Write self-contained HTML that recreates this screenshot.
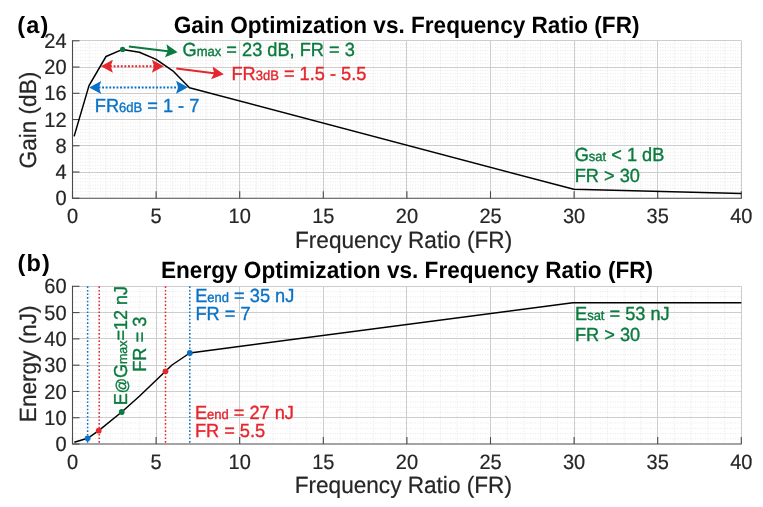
<!DOCTYPE html>
<html><head><meta charset="utf-8"><style>
html,body{margin:0;padding:0;background:#fff;}
svg{display:block;will-change:transform;}
text{font-family:'Liberation Sans', sans-serif;text-rendering:geometricPrecision;}
.mn{stroke:#dcdcdc;stroke-width:0.8;stroke-dasharray:0.8 1.7;fill:none;}
.mj{stroke:#cdcdcd;stroke-width:1;fill:none;}
.ax{stroke:#4a4a4a;stroke-width:1.1;fill:none;}
.tk{font-size:20px;fill:#262626;stroke:#262626;stroke-width:0.2px;}
.lb{font-size:22.6px;fill:#262626;stroke:#262626;stroke-width:0.2px;}
.tt{font-size:22.6px;font-weight:bold;fill:#000;}
.pl{font-size:23.5px;font-weight:bold;fill:#000;letter-spacing:1.2px;}
.an{font-size:18.2px;stroke-width:0.35px;}
.at{font-size:15px;}
.sb{font-size:13px;}
.cv{stroke:#000;stroke-width:1.5;fill:none;stroke-linejoin:round;}
.vd{stroke-width:1.5;stroke-dasharray:1.6 2.0;fill:none;}
.da{stroke-width:2;stroke-dasharray:1.9 1.7;fill:none;}
.ar{stroke-width:2;fill:none;}
</style></head><body>
<svg width="763" height="507" viewBox="0 0 763 507">
<rect width="763" height="507" fill="#fff"/>
<line x1="89.22" y1="40.80" x2="89.22" y2="198.25" class="mn"/>
<line x1="105.94" y1="40.80" x2="105.94" y2="198.25" class="mn"/>
<line x1="122.66" y1="40.80" x2="122.66" y2="198.25" class="mn"/>
<line x1="139.38" y1="40.80" x2="139.38" y2="198.25" class="mn"/>
<line x1="172.82" y1="40.80" x2="172.82" y2="198.25" class="mn"/>
<line x1="189.54" y1="40.80" x2="189.54" y2="198.25" class="mn"/>
<line x1="206.26" y1="40.80" x2="206.26" y2="198.25" class="mn"/>
<line x1="222.98" y1="40.80" x2="222.98" y2="198.25" class="mn"/>
<line x1="256.42" y1="40.80" x2="256.42" y2="198.25" class="mn"/>
<line x1="273.14" y1="40.80" x2="273.14" y2="198.25" class="mn"/>
<line x1="289.86" y1="40.80" x2="289.86" y2="198.25" class="mn"/>
<line x1="306.58" y1="40.80" x2="306.58" y2="198.25" class="mn"/>
<line x1="340.02" y1="40.80" x2="340.02" y2="198.25" class="mn"/>
<line x1="356.74" y1="40.80" x2="356.74" y2="198.25" class="mn"/>
<line x1="373.46" y1="40.80" x2="373.46" y2="198.25" class="mn"/>
<line x1="390.18" y1="40.80" x2="390.18" y2="198.25" class="mn"/>
<line x1="423.62" y1="40.80" x2="423.62" y2="198.25" class="mn"/>
<line x1="440.34" y1="40.80" x2="440.34" y2="198.25" class="mn"/>
<line x1="457.06" y1="40.80" x2="457.06" y2="198.25" class="mn"/>
<line x1="473.78" y1="40.80" x2="473.78" y2="198.25" class="mn"/>
<line x1="507.22" y1="40.80" x2="507.22" y2="198.25" class="mn"/>
<line x1="523.94" y1="40.80" x2="523.94" y2="198.25" class="mn"/>
<line x1="540.66" y1="40.80" x2="540.66" y2="198.25" class="mn"/>
<line x1="557.38" y1="40.80" x2="557.38" y2="198.25" class="mn"/>
<line x1="590.82" y1="40.80" x2="590.82" y2="198.25" class="mn"/>
<line x1="607.54" y1="40.80" x2="607.54" y2="198.25" class="mn"/>
<line x1="624.26" y1="40.80" x2="624.26" y2="198.25" class="mn"/>
<line x1="640.98" y1="40.80" x2="640.98" y2="198.25" class="mn"/>
<line x1="674.42" y1="40.80" x2="674.42" y2="198.25" class="mn"/>
<line x1="691.14" y1="40.80" x2="691.14" y2="198.25" class="mn"/>
<line x1="707.86" y1="40.80" x2="707.86" y2="198.25" class="mn"/>
<line x1="724.58" y1="40.80" x2="724.58" y2="198.25" class="mn"/>
<line x1="72.50" y1="194.97" x2="741.30" y2="194.97" class="mn"/>
<line x1="72.50" y1="191.69" x2="741.30" y2="191.69" class="mn"/>
<line x1="72.50" y1="188.41" x2="741.30" y2="188.41" class="mn"/>
<line x1="72.50" y1="185.13" x2="741.30" y2="185.13" class="mn"/>
<line x1="72.50" y1="181.85" x2="741.30" y2="181.85" class="mn"/>
<line x1="72.50" y1="178.57" x2="741.30" y2="178.57" class="mn"/>
<line x1="72.50" y1="175.29" x2="741.30" y2="175.29" class="mn"/>
<line x1="72.50" y1="168.73" x2="741.30" y2="168.73" class="mn"/>
<line x1="72.50" y1="165.45" x2="741.30" y2="165.45" class="mn"/>
<line x1="72.50" y1="162.17" x2="741.30" y2="162.17" class="mn"/>
<line x1="72.50" y1="158.89" x2="741.30" y2="158.89" class="mn"/>
<line x1="72.50" y1="155.61" x2="741.30" y2="155.61" class="mn"/>
<line x1="72.50" y1="152.33" x2="741.30" y2="152.33" class="mn"/>
<line x1="72.50" y1="149.05" x2="741.30" y2="149.05" class="mn"/>
<line x1="72.50" y1="142.49" x2="741.30" y2="142.49" class="mn"/>
<line x1="72.50" y1="139.21" x2="741.30" y2="139.21" class="mn"/>
<line x1="72.50" y1="135.93" x2="741.30" y2="135.93" class="mn"/>
<line x1="72.50" y1="132.65" x2="741.30" y2="132.65" class="mn"/>
<line x1="72.50" y1="129.37" x2="741.30" y2="129.37" class="mn"/>
<line x1="72.50" y1="126.09" x2="741.30" y2="126.09" class="mn"/>
<line x1="72.50" y1="122.81" x2="741.30" y2="122.81" class="mn"/>
<line x1="72.50" y1="116.24" x2="741.30" y2="116.24" class="mn"/>
<line x1="72.50" y1="112.96" x2="741.30" y2="112.96" class="mn"/>
<line x1="72.50" y1="109.68" x2="741.30" y2="109.68" class="mn"/>
<line x1="72.50" y1="106.40" x2="741.30" y2="106.40" class="mn"/>
<line x1="72.50" y1="103.12" x2="741.30" y2="103.12" class="mn"/>
<line x1="72.50" y1="99.84" x2="741.30" y2="99.84" class="mn"/>
<line x1="72.50" y1="96.56" x2="741.30" y2="96.56" class="mn"/>
<line x1="72.50" y1="90.00" x2="741.30" y2="90.00" class="mn"/>
<line x1="72.50" y1="86.72" x2="741.30" y2="86.72" class="mn"/>
<line x1="72.50" y1="83.44" x2="741.30" y2="83.44" class="mn"/>
<line x1="72.50" y1="80.16" x2="741.30" y2="80.16" class="mn"/>
<line x1="72.50" y1="76.88" x2="741.30" y2="76.88" class="mn"/>
<line x1="72.50" y1="73.60" x2="741.30" y2="73.60" class="mn"/>
<line x1="72.50" y1="70.32" x2="741.30" y2="70.32" class="mn"/>
<line x1="72.50" y1="63.76" x2="741.30" y2="63.76" class="mn"/>
<line x1="72.50" y1="60.48" x2="741.30" y2="60.48" class="mn"/>
<line x1="72.50" y1="57.20" x2="741.30" y2="57.20" class="mn"/>
<line x1="72.50" y1="53.92" x2="741.30" y2="53.92" class="mn"/>
<line x1="72.50" y1="50.64" x2="741.30" y2="50.64" class="mn"/>
<line x1="72.50" y1="47.36" x2="741.30" y2="47.36" class="mn"/>
<line x1="72.50" y1="44.08" x2="741.30" y2="44.08" class="mn"/>
<line x1="156.50" y1="40.80" x2="156.50" y2="198.25" class="mj"/>
<line x1="239.50" y1="40.80" x2="239.50" y2="198.25" class="mj"/>
<line x1="323.50" y1="40.80" x2="323.50" y2="198.25" class="mj"/>
<line x1="406.50" y1="40.80" x2="406.50" y2="198.25" class="mj"/>
<line x1="490.50" y1="40.80" x2="490.50" y2="198.25" class="mj"/>
<line x1="574.50" y1="40.80" x2="574.50" y2="198.25" class="mj"/>
<line x1="657.50" y1="40.80" x2="657.50" y2="198.25" class="mj"/>
<line x1="741.50" y1="40.80" x2="741.50" y2="198.25" class="mj"/>
<line x1="72.50" y1="172.50" x2="741.30" y2="172.50" class="mj"/>
<line x1="72.50" y1="145.50" x2="741.30" y2="145.50" class="mj"/>
<line x1="72.50" y1="119.50" x2="741.30" y2="119.50" class="mj"/>
<line x1="72.50" y1="93.50" x2="741.30" y2="93.50" class="mj"/>
<line x1="72.50" y1="67.50" x2="741.30" y2="67.50" class="mj"/>
<line x1="72.50" y1="40.50" x2="741.30" y2="40.50" class="mj"/>
<line x1="89.22" y1="286.30" x2="89.22" y2="444.05" class="mn"/>
<line x1="105.94" y1="286.30" x2="105.94" y2="444.05" class="mn"/>
<line x1="122.66" y1="286.30" x2="122.66" y2="444.05" class="mn"/>
<line x1="139.38" y1="286.30" x2="139.38" y2="444.05" class="mn"/>
<line x1="172.82" y1="286.30" x2="172.82" y2="444.05" class="mn"/>
<line x1="189.54" y1="286.30" x2="189.54" y2="444.05" class="mn"/>
<line x1="206.26" y1="286.30" x2="206.26" y2="444.05" class="mn"/>
<line x1="222.98" y1="286.30" x2="222.98" y2="444.05" class="mn"/>
<line x1="256.42" y1="286.30" x2="256.42" y2="444.05" class="mn"/>
<line x1="273.14" y1="286.30" x2="273.14" y2="444.05" class="mn"/>
<line x1="289.86" y1="286.30" x2="289.86" y2="444.05" class="mn"/>
<line x1="306.58" y1="286.30" x2="306.58" y2="444.05" class="mn"/>
<line x1="340.02" y1="286.30" x2="340.02" y2="444.05" class="mn"/>
<line x1="356.74" y1="286.30" x2="356.74" y2="444.05" class="mn"/>
<line x1="373.46" y1="286.30" x2="373.46" y2="444.05" class="mn"/>
<line x1="390.18" y1="286.30" x2="390.18" y2="444.05" class="mn"/>
<line x1="423.62" y1="286.30" x2="423.62" y2="444.05" class="mn"/>
<line x1="440.34" y1="286.30" x2="440.34" y2="444.05" class="mn"/>
<line x1="457.06" y1="286.30" x2="457.06" y2="444.05" class="mn"/>
<line x1="473.78" y1="286.30" x2="473.78" y2="444.05" class="mn"/>
<line x1="507.22" y1="286.30" x2="507.22" y2="444.05" class="mn"/>
<line x1="523.94" y1="286.30" x2="523.94" y2="444.05" class="mn"/>
<line x1="540.66" y1="286.30" x2="540.66" y2="444.05" class="mn"/>
<line x1="557.38" y1="286.30" x2="557.38" y2="444.05" class="mn"/>
<line x1="590.82" y1="286.30" x2="590.82" y2="444.05" class="mn"/>
<line x1="607.54" y1="286.30" x2="607.54" y2="444.05" class="mn"/>
<line x1="624.26" y1="286.30" x2="624.26" y2="444.05" class="mn"/>
<line x1="640.98" y1="286.30" x2="640.98" y2="444.05" class="mn"/>
<line x1="674.42" y1="286.30" x2="674.42" y2="444.05" class="mn"/>
<line x1="691.14" y1="286.30" x2="691.14" y2="444.05" class="mn"/>
<line x1="707.86" y1="286.30" x2="707.86" y2="444.05" class="mn"/>
<line x1="724.58" y1="286.30" x2="724.58" y2="444.05" class="mn"/>
<line x1="72.50" y1="438.79" x2="741.30" y2="438.79" class="mn"/>
<line x1="72.50" y1="433.53" x2="741.30" y2="433.53" class="mn"/>
<line x1="72.50" y1="428.28" x2="741.30" y2="428.28" class="mn"/>
<line x1="72.50" y1="423.02" x2="741.30" y2="423.02" class="mn"/>
<line x1="72.50" y1="412.50" x2="741.30" y2="412.50" class="mn"/>
<line x1="72.50" y1="407.24" x2="741.30" y2="407.24" class="mn"/>
<line x1="72.50" y1="401.98" x2="741.30" y2="401.98" class="mn"/>
<line x1="72.50" y1="396.73" x2="741.30" y2="396.73" class="mn"/>
<line x1="72.50" y1="386.21" x2="741.30" y2="386.21" class="mn"/>
<line x1="72.50" y1="380.95" x2="741.30" y2="380.95" class="mn"/>
<line x1="72.50" y1="375.69" x2="741.30" y2="375.69" class="mn"/>
<line x1="72.50" y1="370.43" x2="741.30" y2="370.43" class="mn"/>
<line x1="72.50" y1="359.92" x2="741.30" y2="359.92" class="mn"/>
<line x1="72.50" y1="354.66" x2="741.30" y2="354.66" class="mn"/>
<line x1="72.50" y1="349.40" x2="741.30" y2="349.40" class="mn"/>
<line x1="72.50" y1="344.14" x2="741.30" y2="344.14" class="mn"/>
<line x1="72.50" y1="333.62" x2="741.30" y2="333.62" class="mn"/>
<line x1="72.50" y1="328.37" x2="741.30" y2="328.37" class="mn"/>
<line x1="72.50" y1="323.11" x2="741.30" y2="323.11" class="mn"/>
<line x1="72.50" y1="317.85" x2="741.30" y2="317.85" class="mn"/>
<line x1="72.50" y1="307.33" x2="741.30" y2="307.33" class="mn"/>
<line x1="72.50" y1="302.08" x2="741.30" y2="302.08" class="mn"/>
<line x1="72.50" y1="296.82" x2="741.30" y2="296.82" class="mn"/>
<line x1="72.50" y1="291.56" x2="741.30" y2="291.56" class="mn"/>
<line x1="156.50" y1="286.30" x2="156.50" y2="444.05" class="mj"/>
<line x1="239.50" y1="286.30" x2="239.50" y2="444.05" class="mj"/>
<line x1="323.50" y1="286.30" x2="323.50" y2="444.05" class="mj"/>
<line x1="406.50" y1="286.30" x2="406.50" y2="444.05" class="mj"/>
<line x1="490.50" y1="286.30" x2="490.50" y2="444.05" class="mj"/>
<line x1="574.50" y1="286.30" x2="574.50" y2="444.05" class="mj"/>
<line x1="657.50" y1="286.30" x2="657.50" y2="444.05" class="mj"/>
<line x1="741.50" y1="286.30" x2="741.50" y2="444.05" class="mj"/>
<line x1="72.50" y1="417.50" x2="741.30" y2="417.50" class="mj"/>
<line x1="72.50" y1="391.50" x2="741.30" y2="391.50" class="mj"/>
<line x1="72.50" y1="365.50" x2="741.30" y2="365.50" class="mj"/>
<line x1="72.50" y1="338.50" x2="741.30" y2="338.50" class="mj"/>
<line x1="72.50" y1="312.50" x2="741.30" y2="312.50" class="mj"/>
<line x1="72.50" y1="286.50" x2="741.30" y2="286.50" class="mj"/>
<line x1="87.6" y1="286.30" x2="87.6" y2="444.05" stroke="#0a72c6" class="vd"/>
<line x1="99.2" y1="286.30" x2="99.2" y2="444.05" stroke="#e5262d" class="vd"/>
<line x1="165.5" y1="286.30" x2="165.5" y2="444.05" stroke="#e5262d" class="vd"/>
<line x1="189.8" y1="286.30" x2="189.8" y2="444.05" stroke="#0a72c6" class="vd"/>
<path d="M72.50 40.30 V198.25 H741.80" class="ax"/>
<line x1="72.50" y1="198.25" x2="72.50" y2="191.25" class="ax"/>
<text transform="translate(72.50 223.05) scale(1 1.04)" class="tk" text-anchor="middle">0</text>
<line x1="156.10" y1="198.25" x2="156.10" y2="191.25" class="ax"/>
<text transform="translate(156.10 223.05) scale(1 1.04)" class="tk" text-anchor="middle">5</text>
<line x1="239.70" y1="198.25" x2="239.70" y2="191.25" class="ax"/>
<text transform="translate(239.70 223.05) scale(1 1.04)" class="tk" text-anchor="middle">10</text>
<line x1="323.30" y1="198.25" x2="323.30" y2="191.25" class="ax"/>
<text transform="translate(323.30 223.05) scale(1 1.04)" class="tk" text-anchor="middle">15</text>
<line x1="406.90" y1="198.25" x2="406.90" y2="191.25" class="ax"/>
<text transform="translate(406.90 223.05) scale(1 1.04)" class="tk" text-anchor="middle">20</text>
<line x1="490.50" y1="198.25" x2="490.50" y2="191.25" class="ax"/>
<text transform="translate(490.50 223.05) scale(1 1.04)" class="tk" text-anchor="middle">25</text>
<line x1="574.10" y1="198.25" x2="574.10" y2="191.25" class="ax"/>
<text transform="translate(574.10 223.05) scale(1 1.04)" class="tk" text-anchor="middle">30</text>
<line x1="657.70" y1="198.25" x2="657.70" y2="191.25" class="ax"/>
<text transform="translate(657.70 223.05) scale(1 1.04)" class="tk" text-anchor="middle">35</text>
<line x1="741.30" y1="198.25" x2="741.30" y2="191.25" class="ax"/>
<text transform="translate(741.30 223.05) scale(1 1.04)" class="tk" text-anchor="middle">40</text>
<line x1="72.50" y1="198.25" x2="79.50" y2="198.25" class="ax"/>
<text transform="translate(66.6 205.35) scale(1 1.04)" class="tk" text-anchor="end">0</text>
<line x1="72.50" y1="172.01" x2="79.50" y2="172.01" class="ax"/>
<text transform="translate(66.6 179.11) scale(1 1.04)" class="tk" text-anchor="end">4</text>
<line x1="72.50" y1="145.77" x2="79.50" y2="145.77" class="ax"/>
<text transform="translate(66.6 152.87) scale(1 1.04)" class="tk" text-anchor="end">8</text>
<line x1="72.50" y1="119.53" x2="79.50" y2="119.53" class="ax"/>
<text transform="translate(66.6 126.62) scale(1 1.04)" class="tk" text-anchor="end">12</text>
<line x1="72.50" y1="93.28" x2="79.50" y2="93.28" class="ax"/>
<text transform="translate(66.6 100.38) scale(1 1.04)" class="tk" text-anchor="end">16</text>
<line x1="72.50" y1="67.04" x2="79.50" y2="67.04" class="ax"/>
<text transform="translate(66.6 74.14) scale(1 1.04)" class="tk" text-anchor="end">20</text>
<line x1="72.50" y1="40.80" x2="79.50" y2="40.80" class="ax"/>
<text transform="translate(66.6 47.90) scale(1 1.04)" class="tk" text-anchor="end">24</text>
<path d="M72.50 285.80 V444.05 H741.80" class="ax"/>
<line x1="72.50" y1="444.05" x2="72.50" y2="437.05" class="ax"/>
<text transform="translate(72.50 468.85) scale(1 1.04)" class="tk" text-anchor="middle">0</text>
<line x1="156.10" y1="444.05" x2="156.10" y2="437.05" class="ax"/>
<text transform="translate(156.10 468.85) scale(1 1.04)" class="tk" text-anchor="middle">5</text>
<line x1="239.70" y1="444.05" x2="239.70" y2="437.05" class="ax"/>
<text transform="translate(239.70 468.85) scale(1 1.04)" class="tk" text-anchor="middle">10</text>
<line x1="323.30" y1="444.05" x2="323.30" y2="437.05" class="ax"/>
<text transform="translate(323.30 468.85) scale(1 1.04)" class="tk" text-anchor="middle">15</text>
<line x1="406.90" y1="444.05" x2="406.90" y2="437.05" class="ax"/>
<text transform="translate(406.90 468.85) scale(1 1.04)" class="tk" text-anchor="middle">20</text>
<line x1="490.50" y1="444.05" x2="490.50" y2="437.05" class="ax"/>
<text transform="translate(490.50 468.85) scale(1 1.04)" class="tk" text-anchor="middle">25</text>
<line x1="574.10" y1="444.05" x2="574.10" y2="437.05" class="ax"/>
<text transform="translate(574.10 468.85) scale(1 1.04)" class="tk" text-anchor="middle">30</text>
<line x1="657.70" y1="444.05" x2="657.70" y2="437.05" class="ax"/>
<text transform="translate(657.70 468.85) scale(1 1.04)" class="tk" text-anchor="middle">35</text>
<line x1="741.30" y1="444.05" x2="741.30" y2="437.05" class="ax"/>
<text transform="translate(741.30 468.85) scale(1 1.04)" class="tk" text-anchor="middle">40</text>
<line x1="72.50" y1="444.05" x2="79.50" y2="444.05" class="ax"/>
<text transform="translate(66.6 451.15) scale(1 1.04)" class="tk" text-anchor="end">0</text>
<line x1="72.50" y1="417.76" x2="79.50" y2="417.76" class="ax"/>
<text transform="translate(66.6 424.86) scale(1 1.04)" class="tk" text-anchor="end">10</text>
<line x1="72.50" y1="391.47" x2="79.50" y2="391.47" class="ax"/>
<text transform="translate(66.6 398.57) scale(1 1.04)" class="tk" text-anchor="end">20</text>
<line x1="72.50" y1="365.18" x2="79.50" y2="365.18" class="ax"/>
<text transform="translate(66.6 372.28) scale(1 1.04)" class="tk" text-anchor="end">30</text>
<line x1="72.50" y1="338.88" x2="79.50" y2="338.88" class="ax"/>
<text transform="translate(66.6 345.98) scale(1 1.04)" class="tk" text-anchor="end">40</text>
<line x1="72.50" y1="312.59" x2="79.50" y2="312.59" class="ax"/>
<text transform="translate(66.6 319.69) scale(1 1.04)" class="tk" text-anchor="end">50</text>
<line x1="72.50" y1="286.30" x2="79.50" y2="286.30" class="ax"/>
<text transform="translate(66.6 293.40) scale(1 1.04)" class="tk" text-anchor="end">60</text>
<polyline points="74.1,136.4 89.0,85.6 106.0,56.5 122.6,49.4 139.4,52.2 156.1,59.4 172.8,70.8 189.5,87.7 573.8,189.3 741.3,193.5" class="cv"/>
<polyline points="74.3,442.3 87.6,438.3 98.7,430.7 121.7,412.0 139.4,396.2 172.0,365.0 189.8,353.0 572.8,302.7 741.3,302.7" class="cv"/>
<circle cx="122.6" cy="49.4" r="2.6" fill="#0b7a3e"/>
<circle cx="87.6" cy="438.3" r="2.9" fill="#0a72c6"/>
<circle cx="98.7" cy="430.7" r="2.9" fill="#e5262d"/>
<circle cx="121.7" cy="412.0" r="2.9" fill="#0b7a3e"/>
<circle cx="165.5" cy="371.3" r="2.9" fill="#e5262d"/>
<circle cx="189.8" cy="353.0" r="2.9" fill="#0a72c6"/>
<line x1="110" y1="66.3" x2="155" y2="66.3" stroke="#e5262d" class="da"/>
<path d="M100.90 66.30 L112.90 59.80 L110.70 66.30 L112.90 72.80Z" fill="#e5262d"/>
<path d="M163.90 66.30 L151.90 72.80 L154.10 66.30 L151.90 59.80Z" fill="#e5262d"/>
<line x1="98.5" y1="87.4" x2="178.5" y2="87.4" stroke="#0a72c6" class="da"/>
<path d="M89.20 87.40 L101.20 80.90 L99.00 87.40 L101.20 93.90Z" fill="#0a72c6"/>
<path d="M188.00 87.20 L176.00 93.70 L178.20 87.20 L176.00 80.70Z" fill="#0a72c6"/>
<line x1="128.9" y1="46.6" x2="170" y2="51.4" stroke="#0b7a3e" class="ar"/>
<path d="M177.60 52.20 L164.94 57.29 L167.86 51.08 L166.42 44.37Z" fill="#0b7a3e"/>
<line x1="176.3" y1="68.6" x2="216" y2="73.4" stroke="#e5262d" class="ar"/>
<path d="M223.80 74.30 L211.11 79.32 L214.07 73.13 L212.66 66.42Z" fill="#e5262d"/>
<text transform="translate(406.6 33) scale(1 1.04)" class="tt" text-anchor="middle">Gain Optimization vs. Frequency Ratio (FR)</text>
<text transform="translate(407 277.9) scale(1 1.04)" class="tt" text-anchor="middle">Energy Optimization vs. Frequency Ratio (FR)</text>
<text x="17.2" y="32.5" class="pl">(a)</text>
<text x="17.5" y="270.5" class="pl">(b)</text>
<text transform="translate(403.6 247.9) scale(1 1.04)" class="lb" text-anchor="middle">Frequency Ratio (FR)</text>
<text transform="translate(403.3 493.0) scale(1 1.04)" class="lb" text-anchor="middle">Frequency Ratio (FR)</text>
<text transform="translate(36.4 120.1) rotate(-90) scale(1 1.04)" class="lb" text-anchor="middle">Gain (dB)</text>
<text transform="translate(36.1 363.8) rotate(-90) scale(1 1.04)" class="lb" text-anchor="middle">Energy (nJ)</text>
<text transform="translate(182.6 56.1) scale(1 1.04)" fill="#0b7a3e" stroke="#0b7a3e" class="an" xml:space="preserve">G<tspan class="sb">max</tspan> = 23 dB, FR = 3</text>
<text transform="translate(231.5 80.1) scale(1 1.04)" fill="#e5262d" stroke="#e5262d" class="an" xml:space="preserve">FR<tspan class="sb">3dB</tspan> = 1.5 - 5.5</text>
<text transform="translate(94.8 111.5) scale(1 1.04)" fill="#0a72c6" stroke="#0a72c6" class="an" xml:space="preserve">FR<tspan class="sb">6dB</tspan> = 1 - 7</text>
<text transform="translate(574.7 161.1) scale(1 1.04)" fill="#0b7a3e" stroke="#0b7a3e" class="an" xml:space="preserve">G<tspan class="sb">sat</tspan> &lt; 1 dB</text>
<text transform="translate(574.7 182.3) scale(1 1.04)" fill="#0b7a3e" stroke="#0b7a3e" class="an" xml:space="preserve">FR &gt; 30</text>
<text transform="translate(195.2 301.8) scale(1 1.04)" fill="#0a72c6" stroke="#0a72c6" class="an" xml:space="preserve">E<tspan class="sb">end</tspan> = 35 nJ</text>
<text transform="translate(195.5 320.3) scale(1 1.04)" fill="#0a72c6" stroke="#0a72c6" class="an" xml:space="preserve">FR = 7</text>
<text transform="translate(194.9 418.8) scale(1 1.04)" fill="#e5262d" stroke="#e5262d" class="an" xml:space="preserve">E<tspan class="sb">end</tspan> = 27 nJ</text>
<text transform="translate(194.9 437.2) scale(1 1.04)" fill="#e5262d" stroke="#e5262d" class="an" xml:space="preserve">FR = 5.5</text>
<text transform="translate(575.0 319.6) scale(1 1.04)" fill="#0b7a3e" stroke="#0b7a3e" class="an" xml:space="preserve">E<tspan class="sb">sat</tspan> = 53 nJ</text>
<text transform="translate(575.0 340.6) scale(1 1.04)" fill="#0b7a3e" stroke="#0b7a3e" class="an" xml:space="preserve">FR &gt; 30</text>
<text transform="translate(127.4 405.3) rotate(-90) scale(1 1.04)" fill="#0b7a3e" stroke="#0b7a3e" class="an" style="font-size:18px">E<tspan class="at">@</tspan>G<tspan class="sb" style="font-size:12.4px">max</tspan>=12 nJ</text>
<text transform="translate(146.4 371.8) rotate(-90) scale(1 1.04)" fill="#0b7a3e" stroke="#0b7a3e" class="an" xml:space="preserve">FR = 3</text>
</svg>
</body></html>
